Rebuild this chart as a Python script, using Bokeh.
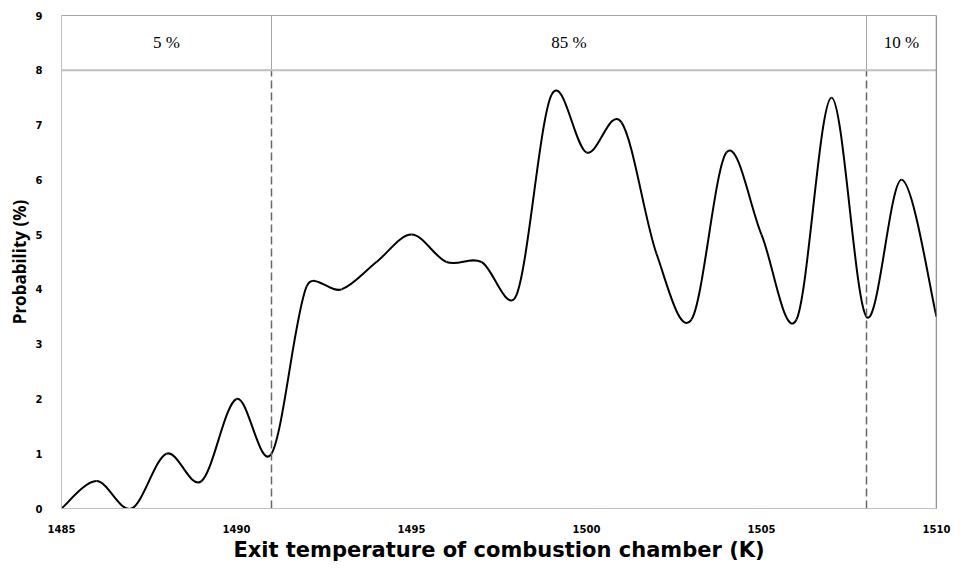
from bokeh.plotting import figure
from bokeh.models import Range1d, Span, FixedTicker
from bokeh.core.properties import value
from bokeh.embed import file_html
from bokeh.resources import INLINE
import numpy as np

# ---- data ----
temps = [1485, 1486, 1487, 1488, 1489, 1490, 1491, 1492, 1493, 1494, 1495, 1496, 1497,
         1498, 1499, 1500, 1501, 1502, 1503, 1504, 1505, 1506, 1507, 1508, 1509, 1510]
prob = [0.0, 0.5, 0.0, 1.0, 0.5, 2.0, 1.0, 4.05, 4.0, 4.5, 5.0, 4.5, 4.5,
        3.9, 7.55, 6.5, 7.05, 4.65, 3.45, 6.5, 5.0, 3.45, 7.5, 3.5, 6.0, 3.5]
boundaries = [1491, 1508]
band_labels = ["5 %", "85 %", "10 %"]
band_centers = [1488, 1499.5, 1509]
band_y = [8.5, 8.5, 8.5]
x_ticks = [1485, 1490, 1495, 1500, 1505, 1510]
y_ticks = [0, 1, 2, 3, 4, 5, 6, 7, 8, 9]

# ---- smoothed line: Excel-style Bezier control points (computed in screen proportions) ----
SX, SY = 35.0, 55.0
xs = np.array(temps, dtype=float)
ys = np.array(prob, dtype=float)
n = len(xs)
px = np.concatenate([[xs[0]], xs, [xs[-1]]]) * SX
py = np.concatenate([[ys[0]], ys, [ys[-1]]]) * SY
x0, y0, x1, y1, cx0, cy0, cx1, cy1 = ([] for _ in range(8))
for i in range(n - 1):
    a = np.array([px[i], py[i]]); b = np.array([px[i + 1], py[i + 1]])
    c = np.array([px[i + 2], py[i + 2]]); d = np.array([px[i + 3], py[i + 3]])
    d12 = np.linalg.norm(c - b)
    d02 = np.linalg.norm(c - a)
    d13 = np.linalg.norm(d - b)
    f1 = 1 / 6 if d02 / 6 < d12 / 2 else (d12 / (2 * d02) if d02 > 0 else 0)
    f2 = 1 / 6 if d13 / 6 < d12 / 2 else (d12 / (2 * d13) if d13 > 0 else 0)
    k1 = b + (c - a) * f1
    k2 = c - (d - b) * f2
    x0.append(b[0] / SX); y0.append(b[1] / SY)
    x1.append(c[0] / SX); y1.append(c[1] / SY)
    cx0.append(k1[0] / SX); cy0.append(k1[1] / SY)
    cx1.append(k2[0] / SX); cy1.append(k2[1] / SY)

p = figure(width=953, height=564, output_backend="svg", toolbar_location=None,
           x_range=Range1d(1485, 1510), y_range=Range1d(0, 9),
           min_border_left=61, min_border_right=17, min_border_top=15, min_border_bottom=54)

p.bezier(x0=x0, y0=y0, x1=x1, y1=y1, cx0=cx0, cy0=cy0, cx1=cx1, cy1=cy1,
         line_color="black", line_width=2)

# band separators
p.add_layout(Span(location=8, dimension="width", line_color="#bfbfbf", line_width=2))
p.add_layout(Span(location=1510, dimension="height", line_color="#808080", line_width=1.5))
p.segment(x0=boundaries, y0=[8, 8], x1=boundaries, y1=[9, 9], line_color="#a6a6a6", line_width=1)
p.segment(x0=boundaries, y0=[0, 0], x1=boundaries, y1=[8, 8], line_color="#666666",
          line_width=1.5, line_dash="8 4")

p.text(x=band_centers, y=band_y, text=band_labels, text_font=value("Liberation Serif"),
       text_font_size="17px", text_align="center", text_baseline="middle", text_color="black")

p.xgrid.visible = False
p.ygrid.visible = False
p.outline_line_color = "#a6a6a6"
p.outline_line_width = 1

for ax in (p.xaxis, p.yaxis):
    ax.major_tick_line_color = None
    ax.minor_tick_line_color = None
    ax.axis_line_color = "#bfbfbf"
    ax.major_label_text_font = "DejaVu Sans"
    ax.major_label_text_font_style = "bold"
    ax.major_label_text_font_size = "10px"
    ax.major_label_text_color = "black"
    ax.axis_label_text_font_style = "bold"
    ax.axis_label_text_color = "black"

p.xaxis.ticker = FixedTicker(ticks=x_ticks)
p.yaxis.ticker = FixedTicker(ticks=y_ticks)
p.xaxis.major_label_standoff = 10
p.yaxis.major_label_standoff = 13
p.xaxis.axis_label = "Exit temperature of combustion chamber (K)"
p.yaxis.axis_label = "Probability (%)"
p.xaxis.axis_label_text_font = "DejaVu Sans"
p.yaxis.axis_label_text_font = "Open Sans"
p.xaxis.axis_label_text_font_size = "21px"
p.yaxis.axis_label_text_font_size = "17px"
p.xaxis.axis_label_standoff = 2
p.yaxis.axis_label_standoff = 2

open("out.html", "w").write(file_html(p, INLINE))
